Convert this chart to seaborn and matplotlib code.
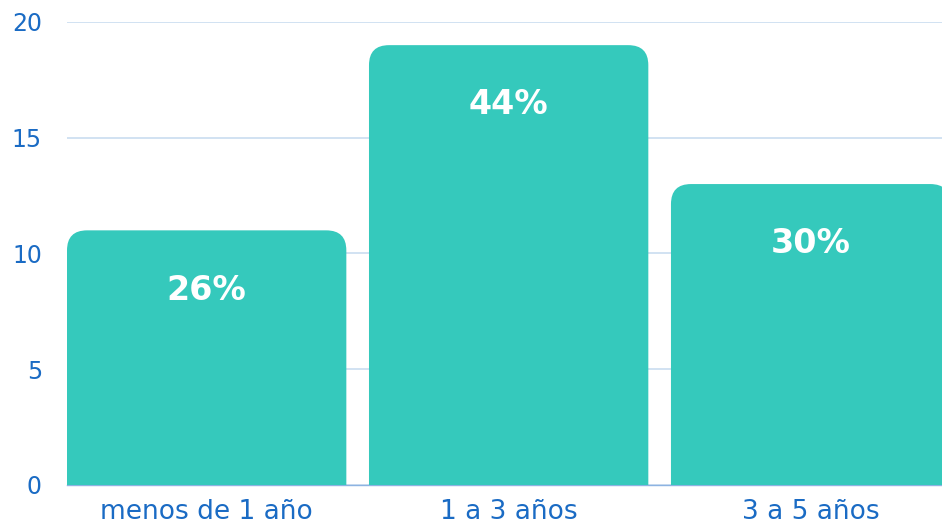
import numpy as np
import pandas as pd
import seaborn as sns
import matplotlib.pyplot as plt
from matplotlib.patches import FancyBboxPatch

categories = ["menos de 1 año", "1 a 3 años", "3 a 5 años"]
counts = [11, 19, 13]
percent_labels = ["26%", "44%", "30%"]

bar_color = "#35C9BC"
text_blue = "#1A6BC4"
grid_blue = "#C9DDF0"

sns.set_style("white")
plt.rcParams["font.family"] = ["DejaVu Sans"]

df = pd.DataFrame({"cat": categories, "n": counts})

fig = plt.figure(figsize=(9.42, 5.26), dpi=100)
ax = fig.add_axes([67 / 942, 41 / 526, 1 - 67 / 942, (485 - 22) / 526])

bar_w = 0.925
sns.barplot(data=df, x="cat", y="n", color=bar_color, width=bar_w,
            saturation=1, ax=ax, zorder=3)

ax.set_xlim(-bar_w / 2, 2.435)
ax.set_ylim(0, 20)

# swap plain bars for bars with rounded top corners
# (bottom corners pushed below the axes and clipped away)
px_x = (2.435 + bar_w / 2) / (942 - 67)
px_y = 20 / (485 - 22)
aspect = px_y / px_x
r = 20 * px_x
drop = 2.0
for bar in list(ax.patches):
    x0, w, h = bar.get_x(), bar.get_width(), bar.get_height()
    bar.remove()
    ax.add_patch(FancyBboxPatch((x0, -drop), w, h + drop,
                                boxstyle=f"round,pad=0,rounding_size={r}",
                                mutation_aspect=aspect, facecolor=bar_color,
                                edgecolor="none", zorder=3))

for i, (n, lab) in enumerate(zip(counts, percent_labels)):
    ax.annotate(lab, (i, n), xytext=(0, -43), textcoords="offset points",
                ha="center", va="center", color="white", fontsize=24,
                fontweight="bold", zorder=4)

ax.set_yticks([0, 5, 10, 15, 20])
ax.yaxis.grid(True, color=grid_blue, linewidth=1.2, zorder=0)
for s in ["top", "right", "left"]:
    ax.spines[s].set_visible(False)
ax.spines["bottom"].set_color("#8DB3E2")
ax.spines["bottom"].set_linewidth(1)
ax.spines["bottom"].set_zorder(2)

ax.tick_params(axis="y", length=0, pad=18, labelsize=17, labelcolor=text_blue)
ax.tick_params(axis="x", length=0, pad=10, labelsize=19, labelcolor=text_blue)
ax.set_xlabel("")
ax.set_ylabel("")

fig.savefig("out.png", dpi=100)
